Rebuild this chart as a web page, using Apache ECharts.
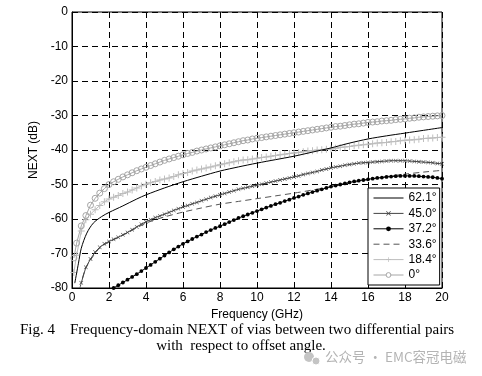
<!DOCTYPE html>
<html>
<head>
<meta charset="utf-8">
<script src="https://cdn.jsdelivr.net/npm/echarts@6/dist/echarts.min.js"></script>
<style>
html,body{margin:0;padding:0;background:#fff;}
#c{width:482px;height:376px;}
</style>
</head>
<body>
<div id="c"></div>
<script>
// ---- data ----
const legendNames = ['62.1°', '45.0°', '37.2°', '33.6°', '18.4°', '0°'];
const xTicks = [0, 2, 4, 6, 8, 10, 12, 14, 16, 18, 20];
const yTicks = [0, -10, -20, -30, -40, -50, -60, -70, -80];

// frequency grid for the marker series (GHz)
const freqs = [0.1,0.25,0.5,0.75,1,1.25,1.5,1.75,2,
  2.25,2.5,2.75,3,3.25,3.5,3.75,4,
  4.25,4.5,4.75,5,5.25,5.5,5.75,6,
  6.25,6.5,6.75,7,7.25,7.5,7.75,8,
  8.25,8.5,8.75,9,9.25,9.5,9.75,10,
  10.25,10.5,10.75,11,11.25,11.5,11.75,12,
  12.25,12.5,12.75,13,13.25,13.5,13.75,14,
  14.25,14.5,14.75,15,15.25,15.5,15.75,16,
  16.25,16.5,16.75,17,17.25,17.5,17.75,18,
  18.25,18.5,18.75,19,19.25,19.5,19.75,20];

const next0 = [-71.3,-67,-62,-59,-56,-54,-52.5,-51.2,-50,
  -49.2,-48.5,-47.8,-47.2,-46.6,-46,-45.5,-45,
  -44.5,-44,-43.5,-43,-42.6,-42.2,-41.8,-41.4,
  -41,-40.7,-40.3,-40,-39.7,-39.4,-39.1,-38.8,
  -38.5,-38.2,-37.9,-37.6,-37.3,-37.1,-36.8,-36.6,
  -36.4,-36.2,-36,-35.8,-35.6,-35.4,-35.2,-35,
  -34.8,-34.6,-34.4,-34.2,-34,-33.8,-33.6,-33.4,
  -33.2,-33.1,-32.9,-32.7,-32.5,-32.4,-32.2,-32,
  -31.9,-31.8,-31.6,-31.5,-31.4,-31.2,-31.1,-31,
  -30.8,-30.7,-30.5,-30.4,-30.3,-30.2,-30.1,-30];

const next184 = [-75.5,-70.5,-63.5,-60.2,-58.6,-57.3,-56.1,-55,-54.2,
  -53.7,-53.2,-52.6,-52.2,-51.6,-51,-50.4,-49.9,
  -49.5,-49.1,-48.7,-48.4,-48.1,-47.7,-47.2,-46.8,
  -46.5,-46.1,-45.8,-45.5,-45.2,-44.9,-44.6,-44.3,
  -44,-43.7,-43.4,-43.1,-42.9,-42.8,-42.6,-42.4,
  -42.2,-42,-41.8,-41.6,-41.4,-41.2,-41,-40.9,
  -40.7,-40.5,-40.3,-40.2,-40,-39.9,-39.8,-39.7,
  -39.5,-39.3,-39.1,-39,-38.8,-38.6,-38.5,-38.3,
  -38.2,-38,-37.9,-37.8,-37.6,-37.5,-37.3,-37.2,
  -37.1,-37,-36.9,-36.7,-36.6,-36.5,-36.4,-36.3];

const next450 = [null,null,-78.5,-74,-71.6,-69.6,-68.2,-67.2,-66.5,
  -65.9,-65.3,-64.6,-63.9,-63.1,-62.3,-61.5,-60.8,
  -60.2,-59.6,-59.1,-58.6,-58.1,-57.5,-57,-56.5,
  -56.1,-55.6,-55.2,-54.7,-54.3,-53.8,-53.4,-53,
  -52.6,-52.2,-51.8,-51.4,-51.1,-50.8,-50.5,-50.2,
  -49.9,-49.6,-49.3,-49,-48.7,-48.4,-48.1,-47.8,
  -47.5,-47.1,-46.8,-46.5,-46.2,-45.8,-45.5,-45.2,
  -44.9,-44.7,-44.4,-44.2,-44,-43.8,-43.7,-43.6,
  -43.5,-43.4,-43.3,-43.2,-43.1,-43.1,-43.1,-43.1,
  -43.2,-43.3,-43.4,-43.5,-43.6,-43.7,-43.9,-44];

const next372 = [null,null,null,null,null,null,null,null,null,
  -80,-79.2,-78.4,-77.6,-76.8,-76,-75.1,-74.2,
  -73.3,-72.4,-71.5,-70.6,-69.7,-68.8,-68,-67.2,
  -66.5,-65.8,-65.1,-64.5,-63.8,-63.2,-62.6,-62.1,
  -61.5,-60.9,-60.3,-59.7,-59.2,-58.7,-58.2,-57.7,
  -57.2,-56.7,-56.2,-55.7,-55.3,-54.8,-54.4,-53.9,
  -53.5,-53,-52.6,-52.2,-51.8,-51.4,-51,-50.6,
  -50.3,-50,-49.7,-49.4,-49.1,-48.9,-48.7,-48.5,
  -48.3,-48.1,-48,-47.8,-47.7,-47.6,-47.5,-47.5,
  -47.5,-47.5,-47.6,-47.7,-47.8,-47.9,-48.1,-48.3];

// plain-line series with their own frequency points
const freq621 = [0.15,0.35,0.5,0.8,1.15,1.6,2,2.75,3.5,4,5,6,7,8,9,10,11,12,13,14,15,16,17,18,19,20];
const next621 = [-78.6,-72.8,-68.5,-64.1,-61.2,-59.3,-58.1,-56.2,-54.2,-53,-51,-49.2,-47.6,-46.1,-44.9,-43.8,-42.8,-41.8,-40.6,-39.4,-38,-36.8,-35.9,-35.1,-34.3,-33.5];

const freq336 = [0.43,0.7,1,1.5,2,3,4,5,6,7,8,9,10,11,12,13,14,15,16,17,18,19,20];
const next336 = [-80,-74.8,-71.9,-68.4,-66.7,-64,-61.2,-59.4,-58,-56.8,-55.7,-54.9,-54.1,-53.3,-52.5,-51.6,-50.6,-49.6,-48.6,-47.7,-47,-46.4,-45.9];

const captionLine1 = 'Fig. 4    Frequency-domain NEXT of vias between two differential pairs';
const captionLine2 = 'with  respect to offset angle.';
const watermark = '公众号 · EMC容冠电磁';

// ---- build ----
function pairs(xs, ys) {
  const out = [];
  for (let i = 0; i < xs.length; i++) out.push([xs[i], ys[i]]);
  return out;
}
const crossPath = 'path://M0,1L1,0L5,4L9,0L10,1L6,5L10,9L9,10L5,6L1,10L0,9L4,5Z';
const plusPath = 'path://M4.3,0H5.7V4.3H10V5.7H5.7V10H4.3V5.7H0V4.3H4.3Z';
const FONT = 'Liberation Sans, Arial, sans-serif';

const legendData = legendNames.map((n, i) => i === 5
  ? {name: n, itemStyle: {color: '#fff', borderColor: '#a6a6a6', borderWidth: 1}}
  : {name: n});

const chart = echarts.init(document.getElementById('c'), null, {renderer: 'canvas'});
chart.setOption({
  animation: false,
  backgroundColor: '#ffffff',
  grid: {left: 72, right: 40, top: 12, bottom: 88, show: true, borderColor: '#000', borderWidth: 1},
  xAxis: {
    type: 'value', min: 0, max: 20, interval: 2,
    name: 'Frequency (GHz)', nameLocation: 'middle', nameGap: 18,
    nameTextStyle: {fontFamily: FONT, fontSize: 12, color: '#000'},
    axisLine: {show: true, onZero: false, lineStyle: {color: '#000', width: 1}},
    axisTick: {show: true, inside: true, length: 4, lineStyle: {color: '#000'}},
    axisLabel: {fontFamily: FONT, fontSize: 12, color: '#000', margin: 4,
      formatter: v => xTicks.includes(v) ? String(v) : ''},
    splitLine: {show: true, lineStyle: {color: '#000', type: [6, 4], width: 1}}
  },
  yAxis: {
    type: 'value', min: -80, max: 0, interval: 10,
    name: 'NEXT (dB)', nameLocation: 'middle', nameGap: 31,
    nameTextStyle: {fontFamily: FONT, fontSize: 12, color: '#000'},
    axisLine: {show: true, onZero: false, lineStyle: {color: '#000', width: 1}},
    axisTick: {show: true, inside: true, length: 4, lineStyle: {color: '#000'}},
    axisLabel: {fontFamily: FONT, fontSize: 12, color: '#000', margin: 4,
      formatter: v => yTicks.includes(v) ? String(v) : ''},
    splitLine: {show: true, lineStyle: {color: '#000', type: [6, 4], width: 1}}
  },
  legend: {
    orient: 'vertical', left: 368, top: 188,
    data: legendData,
    itemWidth: 30, itemHeight: 6, itemGap: 3.4,
    padding: [4, 3, 4, 5],
    lineStyle: {width: 1},
    backgroundColor: '#fff', borderColor: '#000', borderWidth: 1, borderRadius: 0,
    textStyle: {fontFamily: FONT, fontSize: 12, color: '#000', padding: [0, 0, 0, 0]}
  },
  series: [
    {
      name: legendNames[0], type: 'line', data: pairs(freq621, next621),
      smooth: 0.3, symbol: 'none', z: 3,
      lineStyle: {color: '#000', width: 1}, itemStyle: {color: 'rgba(0,0,0,0)', borderWidth: 0}
    },
    {
      name: legendNames[1], type: 'line', data: pairs(freqs, next450),
      symbol: crossPath, symbolSize: 4, showAllSymbol: true, z: 4,
      lineStyle: {color: '#444', width: 1}, itemStyle: {color: '#444'}
    },
    {
      name: legendNames[2], type: 'line', data: pairs(freqs, next372),
      symbol: 'circle', symbolSize: 3.8, showAllSymbol: true, z: 5,
      lineStyle: {color: '#000', width: 1}, itemStyle: {color: '#000'}
    },
    {
      name: legendNames[3], type: 'line', data: pairs(freq336, next336),
      smooth: 0.3, symbol: 'none', z: 3,
      lineStyle: {color: '#555', width: 1, type: [6, 4]}, itemStyle: {color: 'rgba(0,0,0,0)', borderWidth: 0}
    },
    {
      name: legendNames[4], type: 'line', data: pairs(freqs, next184),
      symbol: plusPath, symbolSize: 7, showAllSymbol: true, z: 2,
      lineStyle: {color: '#bdbdbd', width: 1}, itemStyle: {color: '#bdbdbd'}
    },
    {
      name: legendNames[5], type: 'line', data: pairs(freqs, next0),
      symbol: 'circle', symbolSize: 6, showAllSymbol: true, z: 2,
      lineStyle: {color: '#a6a6a6', width: 1},
      itemStyle: {color: 'rgba(0,0,0,0)', borderColor: '#a6a6a6', borderWidth: 1}
    }
  ],
  graphic: [
    {type: 'text', left: 20, top: 323, style: {text: captionLine1, font: '15px "Liberation Serif", "Times New Roman", serif', fill: '#000'}},
    {type: 'text', left: 'center', top: 339, style: {text: captionLine2, font: '15px "Liberation Serif", "Times New Roman", serif', fill: '#000'}},
    {type: 'circle', shape: {cx: 309, cy: 357, r: 5}, style: {fill: '#c4c4c4'}},
    {type: 'circle', shape: {cx: 316, cy: 361, r: 4}, style: {fill: '#c4c4c4', stroke: '#fff', lineWidth: 1}},
    {type: 'text', left: 325, top: 350, style: {text: watermark, font: '13.5px "Noto Sans CJK SC", sans-serif', fill: '#b4b4b4'}}
  ]
});
</script>
</body>
</html>
